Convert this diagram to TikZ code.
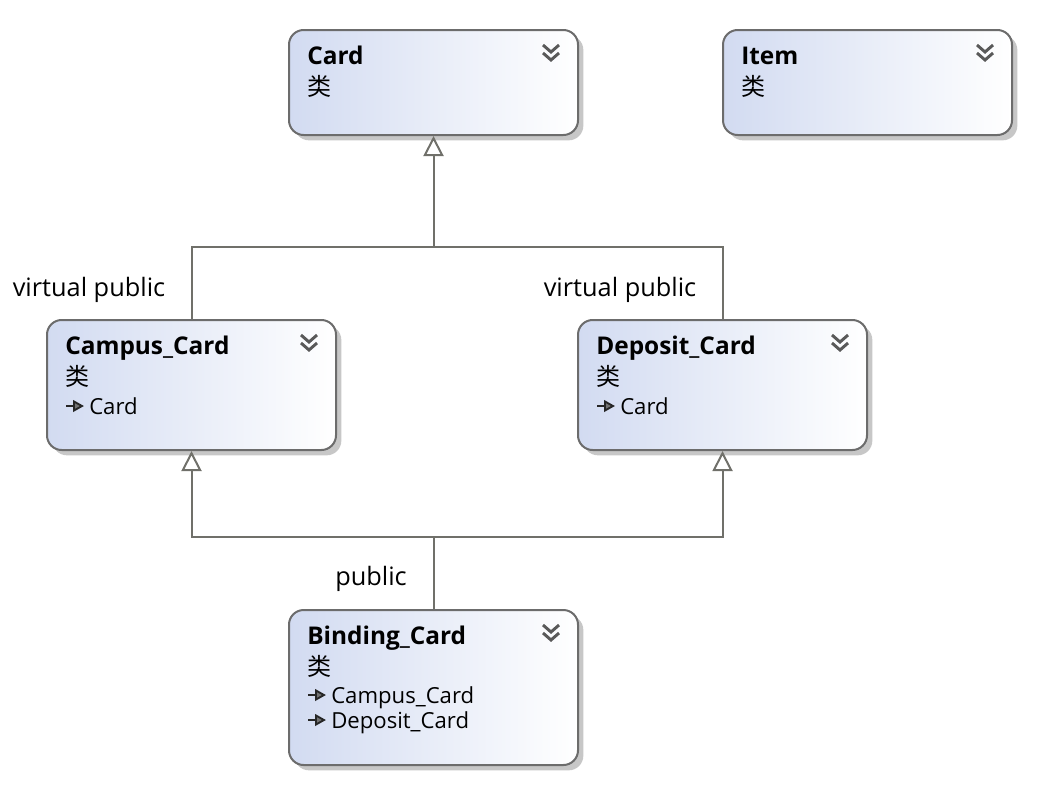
\documentclass[tikz,border=0pt]{standalone}
\usepackage{fontspec}
\setmainfont{Open Sans}
\newfontfamily\cjk{Noto Sans CJK SC}
\usetikzlibrary{calc, positioning, arrows.meta, shadows}

\definecolor{boxblue}{RGB}{210,219,241}
\definecolor{boxedge}{RGB}{108,108,108}
\definecolor{linkgray}{RGB}{112,112,106}

% one class box: name, x, y, height (px), title
\newcommand{\umlclass}[5]{%
  \node [classbox, minimum height=#4*0.75pt] (#1) at (#2,#3) {};
  \node [classtitle] (#1-title) at ($(#1.north west)+(19,35)$) {#5};
  \node [classkind] (#1-kind) at ($(#1.north west)+(19,66)$) {\cjk 类};
  \draw [chevron] ($(#1.north east)+(-36,16)$) -- ++(8,7) -- ++(8,-7);
  \draw [chevron] ($(#1.north east)+(-36,24)$) -- ++(8,7) -- ++(8,-7);
}
% one base class line: box, node name, row (px below top), text
\newcommand{\umlbase}[4]{%
  \draw [baseicon] ($(#1.north west)+(20,#3)$) -- ++(9,0);
  \filldraw [baseicon, fill=black!55] ($(#1.north west)+(28,#3-4.5)$) -- ++(8,4.5) -- ++(-8,4.5) -- cycle;
  \node [membertext] (#2) at ($(#1.north west)+(43,#3+8)$) {#4};
}

\begin{document}
\begin{tikzpicture}[x=0.75pt, y=-0.75pt]

\tikzset{
  classbox/.style={
    draw=boxedge, line width=1.5pt,
    rounded corners=11pt,
    minimum width=216.75pt,
    left color=boxblue, right color=white,
    drop shadow={shadow xshift=4pt, shadow yshift=-4pt, fill=black!22, opacity=1}
  },
  classtitle/.style={anchor=base west, inner sep=0pt, font=\fontsize{18.3}{22}\selectfont\bfseries},
  classkind/.style={anchor=base west, inner sep=0pt, font=\fontsize{18}{20}\selectfont},
  membertext/.style={anchor=base west, inner sep=0pt, font=\fontsize{16.6}{20}\selectfont},
  linklabel/.style={inner sep=0pt, font=\fontsize{19}{22}\selectfont},
  chevron/.style={draw=black!65, line width=2.2pt},
  baseicon/.style={draw=black!85, line width=1.4pt},
  link/.style={draw=linkgray, line width=1.5pt},
  generalize/.style={link, -{Triangle[open, length=15pt, width=15pt, fill=white]}}
}

\useasboundingbox (0,0) rectangle (1044,800);

\umlclass{card}{433.5}{82.5}{105}{Card}
\umlclass{item}{867.5}{82.5}{105}{Item}
\umlclass{campus}{191.5}{385}{130}{Campus\_Card}
\umlclass{deposit}{722.5}{385}{130}{Deposit\_Card}
\umlclass{binding}{433.5}{687.5}{155}{Binding\_Card}

\umlbase{campus}{campus-base}{87}{Card}
\umlbase{deposit}{deposit-base}{87}{Card}
\umlbase{binding}{binding-base1}{86}{Campus\_Card}
\umlbase{binding}{binding-base2}{111}{Deposit\_Card}

% inheritance
\coordinate (cardjoin) at (card.south |- 0,247);
\coordinate (bindjoin) at (binding.north |- 0,537);

\draw [link] (campus.north) |- (cardjoin);
\draw [link] (deposit.north) |- (cardjoin);
\draw [generalize] (cardjoin) -- (card.south);

\draw [link] (binding.north) -- (bindjoin);
\draw [generalize] (bindjoin) -| (campus.south);
\draw [generalize] (bindjoin) -| (deposit.south);

\node [linklabel] (campus-access) at (89,290) {virtual public};
\node [linklabel] (deposit-access) at (620,290) {virtual public};
\node [linklabel] (binding-access) at (371,579) {public};

\end{tikzpicture}
\end{document}
